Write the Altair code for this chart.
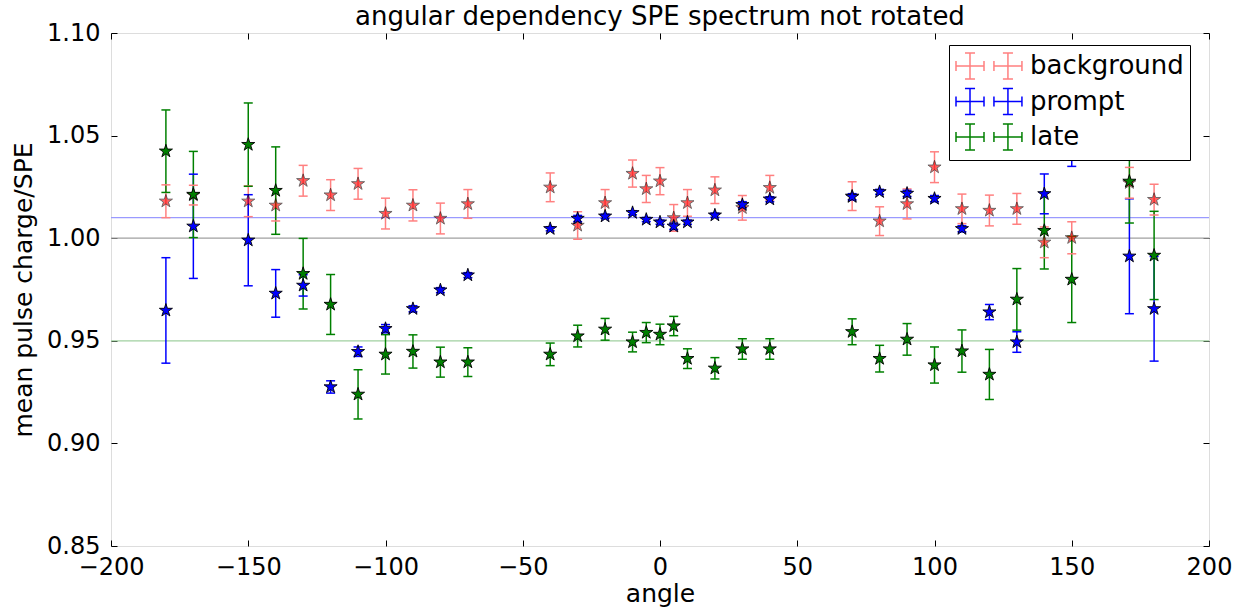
import altair as alt
import pandas as pd

# ---------------- data ----------------
angles = [-180, -170, -150, -140, -130, -120, -110, -100, -90, -80, -70,
          -40, -30, -20, -10, -5, 0, 5, 10, 20, 30, 40,
          70, 80, 90, 100, 110, 120, 130, 140, 150, 171, 180]

series_names = ["background", "prompt", "late"]

background = [1.018, 1.021, 1.018, 1.016, 1.028, 1.021, 1.0265, 1.012, 1.016, 1.0096, 1.0167,
              1.0248, 1.0062, 1.0172, 1.0315, 1.024, 1.0278, 1.0099, 1.0172, 1.0234, 1.0148, 1.0246,
              1.0205, 1.0083, 1.0167, 1.0346, 1.0143, 1.0135, 1.0143, 0.998, 1.0002, 1.027, 1.0188]
background_err = [0.008, 0.0048, 0.0075, 0.0076, 0.0075, 0.0075, 0.0075, 0.0075, 0.0076, 0.0075, 0.007,
                  0.007, 0.0067, 0.0065, 0.0066, 0.0066, 0.0066, 0.0065, 0.0065, 0.0065, 0.006, 0.006,
                  0.007, 0.007, 0.0073, 0.0075, 0.0072, 0.0075, 0.0075, 0.0075, 0.0078, 0.0075, 0.0075]

prompt = [0.9648, 1.0058, 0.999, 0.9731, 0.977, 0.9275, 0.9447, 0.9559, 0.9656, 0.9747, 0.982,
          1.0046, 1.0096, 1.0107, 1.0124, 1.0091, 1.0078, 1.0058, 1.0078, 1.0112, 1.0163, 1.019,
          1.0202, 1.0226, 1.0218, 1.0193, 1.0046, 0.964, 0.9494, 1.0216, 1.045, 0.9912, 0.9656]
prompt_err = [0.0257, 0.0254, 0.0222, 0.0116, 0.0052, 0.003, 0.0023, 0.002, 0.0015, 0.0012, 0.0012,
              0.001, 0.0015, 0.001, 0.001, 0.001, 0.001, 0.0015, 0.001, 0.001, 0.0015, 0.0012,
              0.0015, 0.0012, 0.0015, 0.0015, 0.0015, 0.0037, 0.005, 0.0097, 0.010, 0.028, 0.0255]

late = [1.0424, 1.0213, 1.0456, 1.0232, 0.9827, 0.9677, 0.9239, 0.9434, 0.9448, 0.9396, 0.9396,
        0.9434, 0.9523, 0.9556, 0.9494, 0.954, 0.9531, 0.9572, 0.9413, 0.9366, 0.946, 0.946,
        0.9544, 0.9413, 0.9507, 0.9382, 0.945, 0.9336, 0.9702, 1.0037, 0.9799, 1.0277, 0.9916]
late_err = [0.0201, 0.021, 0.0203, 0.0213, 0.0172, 0.0146, 0.012, 0.0096, 0.0081, 0.0073, 0.007,
            0.0055, 0.0053, 0.0053, 0.0048, 0.0049, 0.005, 0.0047, 0.0048, 0.0052, 0.005, 0.005,
            0.0063, 0.0065, 0.0077, 0.0088, 0.0103, 0.0122, 0.015, 0.0187, 0.021, 0.0203, 0.0215]

ref_names = ["unity", "prompt level", "late level"]
ref_values = [1.00, 1.01, 0.95]

x_ticks = [-200, -150, -100, -50, 0, 50, 100, 150, 200]
y_ticks = [0.85, 0.90, 0.95, 1.00, 1.05, 1.10]

# ---------------- tables ----------------
rows = []
for name, vals, errs in zip(series_names, [background, prompt, late],
                            [background_err, prompt_err, late_err]):
    for a, v, e in zip(angles, vals, errs):
        rows.append({"series": name, "angle": a, "value": v, "lo": v - e, "hi": v + e})
df = pd.DataFrame(rows)
ref_df = pd.DataFrame({"ref": ref_names, "value": ref_values})

# ---------------- styling ----------------
W, H = 1098, 513
FONT = "DejaVu Sans"
line_colors = ["#ff8080", "#0000ff", "#008000"]
fill_colors = ["#ff0000", "#0000ff", "#008000"]
ref_colors = ["#a0a0a0", "#9a9aff", "#a0d0a0"]

STAR = ("M0,-1L0.2245,-0.309L0.951,-0.309L0.3633,0.118L0.588,0.809L0,0.382"
        "L-0.588,0.809L-0.3633,0.118L-0.951,-0.309L-0.2245,-0.309Z")
LEG = ("M-1,0H1M0,-0.93V0.93M-0.36,-0.93H0.36M-0.36,0.93H0.36M-1,-0.36V0.36M1,-0.36V0.36"
       "M1.71,0H3.71M2.71,-0.93V0.93M2.35,-0.93H3.07M2.35,0.93H3.07M1.71,-0.36V0.36M3.71,-0.36V0.36")

xs = alt.Scale(domain=[-200, 200], nice=False, zero=False)
ys = alt.Scale(domain=[0.85, 1.10], nice=False, zero=False)

main_x_axis = alt.Axis(orient="bottom", title="angle", values=x_ticks, ticks=False, domain=False,
                       grid=False, labelFontSize=24, labelFont=FONT, labelColor="black",
                       labelPadding=9, labelFlush=False, labelOverlap=False,
                       titleFontSize=25, titleFont=FONT, titleFontWeight="normal",
                       titleColor="black", titlePadding=2)
main_y_axis = alt.Axis(orient="left", title="mean pulse charge/SPE", values=y_ticks, format=".2f",
                       ticks=False, domain=False, grid=False, labelFontSize=24, labelFont=FONT,
                       labelColor="black", labelPadding=11, labelOverlap=False,
                       titleFontSize=25, titleFont=FONT, titleFontWeight="normal",
                       titleColor="black", titlePadding=10)


def tick_axis(orient, offset, vals):
    return alt.Axis(orient=orient, offset=offset, values=vals, labels=False, ticks=True,
                    tickSize=6, tickColor="black", tickWidth=1, domain=False, grid=False,
                    title=None)


color_enc = alt.Color("series:N", scale=alt.Scale(domain=series_names, range=line_colors),
                      legend=alt.Legend(title=None, orient="none", legendX=838, legendY=12,
                                        symbolType=LEG, symbolSize=784, symbolStrokeWidth=1.5,
                                        labelFontSize=26, labelFont=FONT, labelColor="black",
                                        labelOffset=45, rowPadding=1.5, padding=6,
                                        strokeColor="black", fillColor="white", cornerRadius=0))

refs = alt.Chart(ref_df).mark_rule(strokeWidth=1.3).encode(
    y=alt.Y("value:Q", scale=ys, axis=None),
    stroke=alt.Stroke("ref:N", scale=alt.Scale(domain=ref_names, range=ref_colors), legend=None),
)

bars = alt.Chart(df).mark_rule(strokeWidth=1.5).encode(
    x=alt.X("angle:Q", scale=xs, axis=main_x_axis),
    y=alt.Y("lo:Q", scale=ys, axis=main_y_axis),
    y2="hi:Q",
    color=color_enc,
)

caps_top = alt.Chart(df).mark_tick(orient="horizontal", size=9, thickness=1.5, opacity=1).encode(
    x=alt.X("angle:Q", scale=xs, axis=tick_axis("top", -H, x_ticks)),
    y=alt.Y("hi:Q", scale=ys, axis=tick_axis("right", -W, y_ticks)),
    color=alt.Color("series:N", scale=alt.Scale(domain=series_names, range=line_colors), legend=None),
)

caps_bot = alt.Chart(df).mark_tick(orient="horizontal", size=9, thickness=1.5, opacity=1).encode(
    x=alt.X("angle:Q", scale=xs, axis=tick_axis("bottom", -H, x_ticks)),
    y=alt.Y("lo:Q", scale=ys, axis=tick_axis("left", -W, y_ticks)),
    color=alt.Color("series:N", scale=alt.Scale(domain=series_names, range=line_colors), legend=None),
)

points = alt.Chart(df).mark_point(shape=STAR, size=190, filled=True, stroke="black",
                                  strokeWidth=0.9).encode(
    x=alt.X("angle:Q", scale=xs, axis=None),
    y=alt.Y("value:Q", scale=ys, axis=None),
    fill=alt.Fill("series:N", scale=alt.Scale(domain=series_names, range=fill_colors), legend=None),
    opacity=alt.condition(alt.datum.series == "background", alt.value(0.62), alt.value(1.0)),
)

chart = (
    alt.layer(refs, bars, caps_top, caps_bot, points)
    .resolve_axis(x="independent", y="independent")
    .properties(
        width=W, height=H,
        autosize=alt.AutoSizeParams(type="none"),
        padding={"left": 111, "top": 33, "right": 25, "bottom": 63},
        title=alt.TitleParams("angular dependency SPE spectrum not rotated", fontSize=26,
                              font=FONT, fontWeight="normal", color="black", anchor="middle",
                              baseline="alphabetic", offset=8, dy=38),
    )
    .configure_view(stroke="black", strokeWidth=1.5)
    .configure_legend(strokeWidth=1.5)
    .configure(background="white")
)

chart.save("out.html", embed_options={"renderer": "svg", "actions": False})
